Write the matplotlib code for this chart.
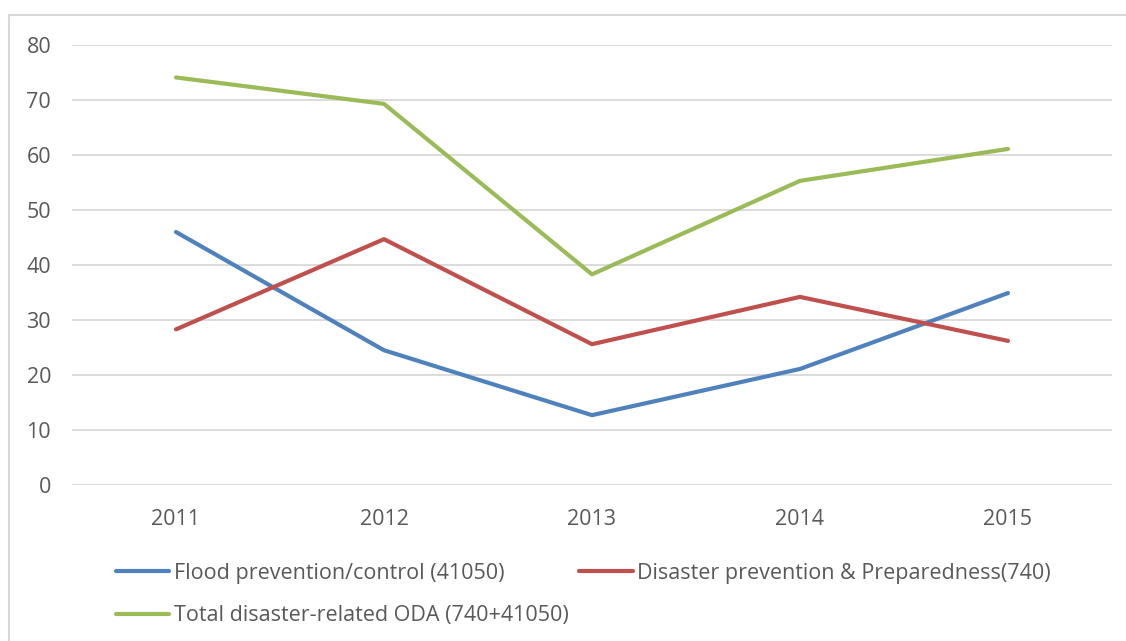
import matplotlib
matplotlib.use('Agg')
import matplotlib.pyplot as plt
from matplotlib.patches import Rectangle

matplotlib.rcParams['font.family'] = ['Open Sans', 'DejaVu Sans']

years = ['2011', '2012', '2013', '2014', '2015']
flood = [46.0, 24.5, 12.7, 21.1, 34.9]
disaster = [28.3, 44.7, 25.6, 34.2, 26.2]
total = [74.1, 69.3, 38.3, 55.3, 61.1]

W, H = 1126, 641
fig = plt.figure(figsize=(W / 100, H / 100), dpi=100)
ax = fig.add_axes([72 / W, 1 - 485 / H, (1112 - 72) / W, (485 - 45) / H])

x = range(len(years))
lw = 3.0
l1, = ax.plot(x, flood, color='#4F81BD', lw=lw, solid_capstyle='round',
              label='Flood prevention/control (41050)')
l2, = ax.plot(x, disaster, color='#C0504D', lw=lw, solid_capstyle='round',
              label='Disaster prevention & Preparedness(740)')
l3, = ax.plot(x, total, color='#9BBB59', lw=lw, solid_capstyle='round',
              label='Total disaster-related ODA (740+41050)')

ax.set_xlim(-0.5, 4.5)
ax.set_ylim(0, 80)
ax.set_yticks(range(0, 81, 10))
ax.set_xticks(list(x))
ax.set_xticklabels(years)
ax.grid(axis='y', color='#D9D9D9', lw=1.3)
ax.set_axisbelow(True)
for s in ax.spines.values():
    s.set_visible(False)
ax.tick_params(length=0, labelsize=15.5, colors='#595959')
ax.tick_params(axis='y', pad=15)
ax.tick_params(axis='x', pad=17)

leg = fig.legend([l1, l3, l2], [l1.get_label(), l3.get_label(), l2.get_label()],
                 ncol=2, frameon=False, fontsize=15.5, labelcolor='#595959',
                 loc='upper left', bbox_to_anchor=(107 / W, 1 - 554 / H),
                 handlelength=2.5, handletextpad=0.2, columnspacing=0.5,
                 labelspacing=1.0, borderaxespad=0)

# light outer frame
fig.patches.append(Rectangle((9 / W, -0.1), 1.2, 1.1 - 15 / H,
                             transform=fig.transFigure, fill=False,
                             edgecolor='#D9D9D9', lw=1.5))

fig.savefig('out.png', dpi=100)
